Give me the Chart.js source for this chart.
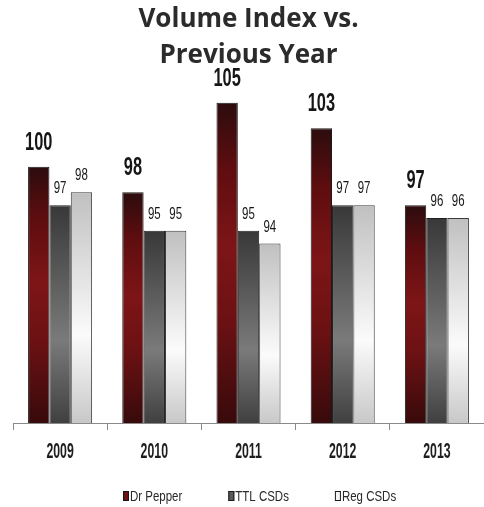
<!DOCTYPE html>
<html>
<head>
<meta charset="utf-8">
<script src="https://cdn.jsdelivr.net/npm/chart.js@4"></script>
<style>
  html, body { margin: 0; padding: 0; background: #fff; overflow: hidden; }
  #wrap { position: relative; width: 484px; height: 507px; }
</style>
</head>
<body>
<div id="wrap"><canvas id="grafico"></canvas></div>
<script>
// dados do grafico
const anos = ['2009', '2010', '2011', '2012', '2013'];
const drPepper = [100, 98, 105, 103, 97];
const ttlCsds = [97, 95, 95, 97, 96];
const regCsds = [98, 95, 94, 97, 96];

// fonte estreita simulada (Liberation Sans comprimida na horizontal)
const fonte = '"Liberation Sans", Arial, sans-serif';

function textoEsticado(ctx, txt, x, y, font, sx, sy, align) {
    ctx.save();
    ctx.translate(x, y);
    ctx.scale(sx, sy);
    ctx.font = font;
    ctx.textAlign = align || 'center';
    ctx.textBaseline = 'alphabetic';
    ctx.fillText(txt, 0, 0);
    ctx.restore();
}

// gradiente vertical por barra (topo escuro, meio claro, base escura)
function gradiente(stops, solido) {
    return function(context) {
        const chart = context.chart;
        if (!chart.chartArea || context.type !== 'data') return solido;
        const y = chart.scales.y;
        const topo = y.getPixelForValue(context.raw);
        const base = y.getPixelForValue(y.min);
        const g = chart.ctx.createLinearGradient(0, topo, 0, base);
        stops.forEach(s => g.addColorStop(s[0], s[1]));
        return g;
    };
}

const coresLegenda = ['#6b1214', '#5a5a5a', '#f4f4f4'];

// rotulos dos valores, dos anos e legenda
const rotulos = {
    id: 'rotulos',
    afterDatasetsDraw(chart) {
        const ctx = chart.ctx;
        ctx.fillStyle = '#161616';
        chart.data.datasets.forEach((ds, i) => {
            const meta = chart.getDatasetMeta(i);
            const negrito = i === 0;
            meta.data.forEach((bar, j) => {
                if (negrito) {
                    textoEsticado(ctx, String(ds.data[j]), bar.x, bar.y - 17, 'bold 20px ' + fonte, 0.82, 1.26);
                } else {
                    textoEsticado(ctx, String(ds.data[j]), bar.x, bar.y - 12, '14px ' + fonte, 0.82, 1.22);
                }
            });
        });

        // anos no eixo x
        const xs = chart.scales.x;
        ctx.fillStyle = '#1e1e1e';
        chart.data.labels.forEach((lab, i) => {
            textoEsticado(ctx, lab, xs.getPixelForValue(i), xs.top + 35, 'bold 15px ' + fonte, 0.82, 1.45);
        });

        // legenda
        let x = 123;
        const yBase = 501;
        chart.data.datasets.forEach((ds, i) => {
            ctx.save();
            ctx.fillStyle = coresLegenda[i];
            ctx.fillRect(x, 491, 6, 10);
            ctx.strokeStyle = '#1a1a1a';
            ctx.lineWidth = 1;
            ctx.strokeRect(x + 0.5, 491.5, 5, 9);
            ctx.restore();
            ctx.save();
            ctx.font = '14px ' + fonte;
            const w = ctx.measureText(ds.label).width * 0.82;
            ctx.restore();
            ctx.fillStyle = '#2a2a2a';
            textoEsticado(ctx, ds.label, x + 7, yBase, '14px ' + fonte, 0.82, 1.05, 'left');
            x += 7 + w + 46;
        });
    }
};

const ctx = document.getElementById('grafico').getContext('2d');
const grafico = new Chart(ctx, {
    type: 'bar',
    data: {
        labels: anos,
        datasets: [{
            label: 'Dr Pepper',
            data: drPepper,
            backgroundColor: gradiente([[0, '#2c0c0e'], [0.2, '#5e0d0f'], [0.45, '#7d1517'], [0.68, '#6c1113'], [1, '#380a0b']], '#6a1012'),
            borderColor: '#1a1a1a',
            borderWidth: 1
        }, {
            label: 'TTL CSDs',
            data: ttlCsds,
            backgroundColor: gradiente([[0, '#383838'], [0.62, '#7a7a7a'], [1, '#404040']], '#5a5a5a'),
            borderColor: '#1f1f1f',
            borderWidth: 1
        }, {
            label: 'Reg CSDs',
            data: regCsds,
            backgroundColor: gradiente([[0, '#c0c0c0'], [0.62, '#fbfbfb'], [1, '#c8c8c8']], '#f2f2f2'),
            borderColor: '#3a3a3a',
            borderWidth: 1
        }]
    },
    options: {
        responsive: true,
        maintainAspectRatio: false,
        animation: false,
        layout: { padding: { left: 13, right: 0, top: 0, bottom: 57 } },
        datasets: {
            bar: { categoryPercentage: 0.68, barPercentage: 1 }
        },
        scales: {
            x: {
                grid: { display: true, drawOnChartArea: false, drawTicks: true, tickLength: 7, color: '#8a8a8a', offset: true },
                border: { display: true, color: '#8a8a8a' },
                ticks: { display: false },
                afterFit: function(scale) { scale.height = 27; }
            },
            y: {
                display: false,
                min: 80,
                max: 107
            }
        },
        plugins: {
            title: {
                display: true,
                text: ['Volume Index vs.', 'Previous Year'],
                color: '#2b2b2b',
                font: { family: '"Open Sans", sans-serif', weight: 'bold', size: 26, lineHeight: '36px' },
                padding: { top: 2, bottom: 3 }
            },
            legend: { display: false },
            tooltip: { enabled: false }
        }
    },
    plugins: [rotulos]
});
</script>
</body>
</html>
